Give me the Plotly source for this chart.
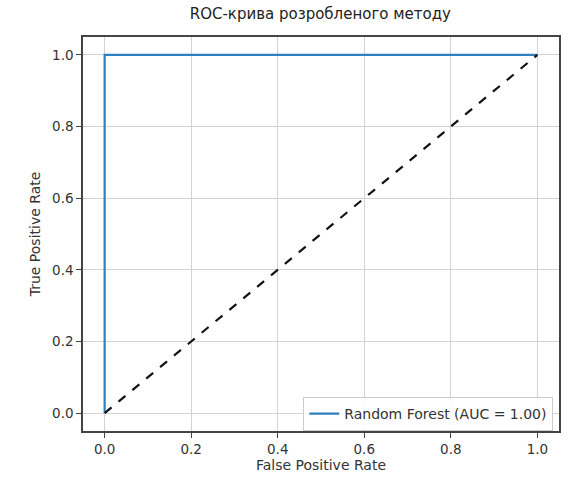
import plotly.graph_objects as go

fpr = [0.0, 0.0, 1.0]
tpr = [0.0, 1.0, 1.0]
diag_x = [0.0, 1.0]
diag_y = [0.0, 1.0]
auc = 1.00
tick_vals = [0.0, 0.2, 0.4, 0.6, 0.8, 1.0]
tick_text = ["0.0", "0.2", "0.4", "0.6", "0.8", "1.0"]

fig = go.Figure()
fig.add_trace(go.Scatter(x=fpr, y=tpr, mode="lines",
                         line=dict(color="#2f7fbf", width=2.2),
                         name=f"Random Forest (AUC = {auc:.2f})"))
fig.add_trace(go.Scatter(x=diag_x, y=diag_y, mode="lines",
                         line=dict(color="#111111", width=2.2, dash="dash"),
                         showlegend=False))

axis_common = dict(
    range=[-0.05, 1.05], tickvals=tick_vals, ticktext=tick_text,
    showgrid=True, gridcolor="#d3d3d3", gridwidth=1,
    zeroline=False, showline=True, linecolor="#444444", linewidth=1.5,
    mirror=True, ticks="outside", ticklen=5, tickcolor="#444444",
    tickfont=dict(size=13.5, color="#333333"), automargin=False,
)

fig.update_layout(
    width=571, height=477,
    margin=dict(l=83, r=12, t=37, b=46),
    paper_bgcolor="white", plot_bgcolor="white",
    font=dict(family="DejaVu Sans", color="#333333"),
    title=dict(text="ROC-крива розробленого методу", x=0.561, xanchor="center",
               y=0.971, yanchor="middle", font=dict(size=15, color="#222222")),
    xaxis=dict(**axis_common, title=dict(text="False Positive Rate", font=dict(size=14), standoff=4)),
    yaxis=dict(**axis_common, title=dict(text="True Positive Rate", font=dict(size=14), standoff=8)),
    legend=dict(x=0.988, y=0.0, xanchor="right", yanchor="bottom",
                bgcolor="rgba(255,255,255,0.85)", bordercolor="#cccccc", borderwidth=1,
                font=dict(size=14, color="#333333")),
)

fig.write_html("out.html")
